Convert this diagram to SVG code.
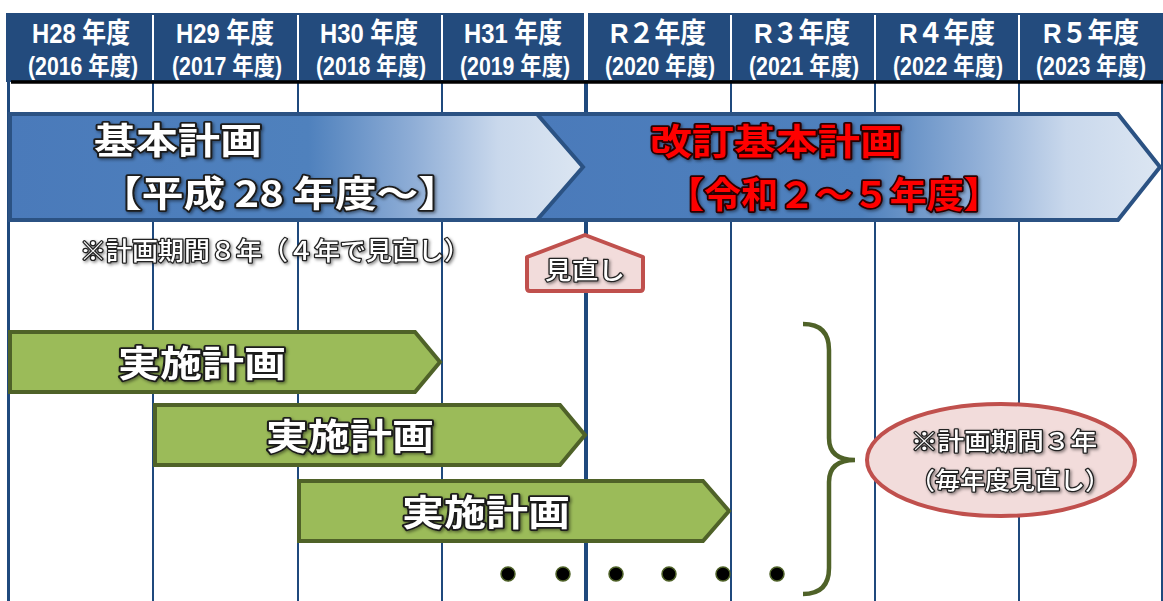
<svg xmlns="http://www.w3.org/2000/svg" width="1163" height="601" viewBox="0 0 1163 601">
<style>
.hd{font-family:"Liberation Sans","Noto Sans CJK JP",sans-serif;font-weight:700;fill:#fff;text-anchor:middle}
.h1{font-size:28px}
.h2{font-size:25px}
.grid{stroke:#1f497d;stroke-width:2}
.big{font-family:"Noto Sans CJK JP",sans-serif;font-weight:700;font-size:36px;paint-order:stroke;stroke-width:3.5;stroke-linejoin:round}
.wt{fill:#fff;stroke:#1a1a1a}
.rd{fill:#ff0000;stroke:#2a0000}
.sm{font-family:"Noto Sans CJK JP",sans-serif;font-weight:500;fill:#fff;stroke:#222;stroke-width:2.5;paint-order:stroke;stroke-linejoin:round;text-anchor:middle}
.green{fill:#9bbb59;stroke:#4f6228;stroke-width:4;stroke-linejoin:miter}
.pink{fill:#f2dcdb;stroke:#c0504d;stroke-width:4}
.dot{fill:#000;stroke:#4f6228;stroke-width:1.5}
</style>
<defs>
<linearGradient id="bg" x1="0" y1="0" x2="1" y2="0">
<stop offset="0" stop-color="#4a7aba"/>
<stop offset="0.52" stop-color="#4f81bd"/>
<stop offset="0.7" stop-color="#8eadd6"/>
<stop offset="0.85" stop-color="#c9d8ec"/>
<stop offset="1" stop-color="#dce6f2"/>
</linearGradient>
<filter id="sh" x="-5%" y="-10%" width="110%" height="130%">
<feDropShadow dx="1.5" dy="1.5" stdDeviation="1.5" flood-color="#000" flood-opacity="0.45"/>
</filter>
</defs>
<rect width="1163" height="601" fill="#fff"/>
<g id="grid">
<line class="grid" x1="8.5" y1="80" x2="8.5" y2="601" style="stroke-width:3"/>
<line class="grid" x1="153" y1="80" x2="153" y2="601"/>
<line class="grid" x1="298" y1="80" x2="298" y2="601"/>
<line class="grid" x1="442" y1="80" x2="442" y2="601"/>
<line class="grid" x1="586" y1="80" x2="586" y2="601" style="stroke-width:4"/>
<line class="grid" x1="731" y1="80" x2="731" y2="601"/>
<line class="grid" x1="875" y1="80" x2="875" y2="601"/>
<line class="grid" x1="1019" y1="80" x2="1019" y2="601"/>
<line class="grid" x1="1162" y1="80" x2="1162" y2="601"/>
</g>
<g id="header">
<rect x="6" y="13" width="1157" height="69" fill="#234b7d"/>
<g stroke="#fff" stroke-width="2">
<line x1="153" y1="15" x2="153" y2="80"/>
<line x1="298" y1="15" x2="298" y2="80"/>
<line x1="442" y1="15" x2="442" y2="80"/>
<line x1="731" y1="15" x2="731" y2="80"/>
<line x1="875" y1="15" x2="875" y2="80"/>
<line x1="1019" y1="15" x2="1019" y2="80"/>
<line x1="586" y1="13" x2="586" y2="80" stroke-width="4"/>
</g>
<line x1="11" y1="82" x2="1163" y2="82" stroke="#000" stroke-width="3.5"/>
<g class="hd h1">
<text x="81" y="43" textLength="98" lengthAdjust="spacingAndGlyphs">H28 年度</text>
<text x="225" y="43" textLength="98" lengthAdjust="spacingAndGlyphs">H29 年度</text>
<text x="369" y="43" textLength="98" lengthAdjust="spacingAndGlyphs">H30 年度</text>
<text x="513" y="43" textLength="98" lengthAdjust="spacingAndGlyphs">H31 年度</text>
<text x="658" y="43" textLength="96" lengthAdjust="spacingAndGlyphs">R２年度</text>
<text x="802" y="43" textLength="96" lengthAdjust="spacingAndGlyphs">R３年度</text>
<text x="947" y="43" textLength="96" lengthAdjust="spacingAndGlyphs">R４年度</text>
<text x="1091" y="43" textLength="96" lengthAdjust="spacingAndGlyphs">R５年度</text>
</g>
<g class="hd h2">
<text x="83" y="75" textLength="110" lengthAdjust="spacingAndGlyphs">(2016 年度)</text>
<text x="227" y="75" textLength="110" lengthAdjust="spacingAndGlyphs">(2017 年度)</text>
<text x="371" y="75" textLength="110" lengthAdjust="spacingAndGlyphs">(2018 年度)</text>
<text x="515" y="75" textLength="110" lengthAdjust="spacingAndGlyphs">(2019 年度)</text>
<text x="660" y="75" textLength="110" lengthAdjust="spacingAndGlyphs">(2020 年度)</text>
<text x="804" y="75" textLength="110" lengthAdjust="spacingAndGlyphs">(2021 年度)</text>
<text x="948" y="75" textLength="110" lengthAdjust="spacingAndGlyphs">(2022 年度)</text>
<text x="1091" y="75" textLength="110" lengthAdjust="spacingAndGlyphs">(2023 年度)</text>
</g>
</g>
<g id="plan1">
<path d="M10,114 L540,114 L584,167 L540,220 L10,220 Z" fill="url(#bg)" stroke="#2b5283" stroke-width="4"/>
<g filter="url(#sh)">
<text class="big wt" x="94" y="154" textLength="168" lengthAdjust="spacingAndGlyphs">基本計画</text>
<text class="big wt" x="100" y="207" textLength="360" lengthAdjust="spacingAndGlyphs">【平成 28 年度～】</text>
</g>
</g>
<g id="plan2">
<path d="M537,114 L1118,114 L1160,167 L1118,220 L537,220 L583,167 Z" fill="url(#bg)" stroke="#2b5283" stroke-width="4"/>
<g filter="url(#sh)">
<text class="big rd" x="650" y="155" textLength="252" lengthAdjust="spacingAndGlyphs">改訂基本計画</text>
<text class="big rd" x="667" y="208" textLength="334" lengthAdjust="spacingAndGlyphs">【令和２～５年度】</text>
</g>
</g>
<g id="note1">
<text class="sm" x="275" y="260" font-size="25" textLength="390" lengthAdjust="spacingAndGlyphs" filter="url(#sh)">※計画期間８年（４年で見直し）</text>
</g>
<g id="review">
<path d="M585,235 L643,257 L643,288 Q643,291 640,291 L530,291 Q527,291 527,288 L527,257 Z" class="pink" stroke-linejoin="round"/>
<text class="sm" x="585" y="279" font-size="24" textLength="80" lengthAdjust="spacingAndGlyphs" filter="url(#sh)">見直し</text>
</g>
<g id="impl1">
<path class="green" d="M10,332 L415,332 L440,362 L415,392 L10,392 Z"/>
<text class="big wt" x="202" y="377" text-anchor="middle" font-size="40" textLength="168" lengthAdjust="spacingAndGlyphs" filter="url(#sh)">実施計画</text>
</g>
<g id="impl2">
<path class="green" d="M155,405 L560,405 L585,435 L560,465 L155,465 Z"/>
<text class="big wt" x="350" y="450" text-anchor="middle" font-size="40" textLength="168" lengthAdjust="spacingAndGlyphs" filter="url(#sh)">実施計画</text>
</g>
<g id="impl3">
<path class="green" d="M299,481 L703,481 L729,511 L703,541 L299,541 Z"/>
<text class="big wt" x="486" y="526" text-anchor="middle" font-size="40" textLength="168" lengthAdjust="spacingAndGlyphs" filter="url(#sh)">実施計画</text>
</g>
<g id="dots">
<circle class="dot" cx="508" cy="574" r="7"/>
<circle class="dot" cx="563" cy="574" r="7"/>
<circle class="dot" cx="616" cy="574" r="7"/>
<circle class="dot" cx="669" cy="574" r="7"/>
<circle class="dot" cx="723" cy="574" r="7"/>
<circle class="dot" cx="777" cy="574" r="7"/>
</g>
<g id="connectors">
<path d="M803,324 Q829,324 829,350 L829,438 Q829,460 855,460 Q829,460 829,482 L829,568 Q829,594 803,594" fill="none" stroke="#4f6228" stroke-width="4.5"/>
</g>
<g id="note2">
<ellipse class="pink" cx="1001" cy="460" rx="134" ry="56"/>
<g filter="url(#sh)">
<text class="sm" x="1004" y="450" font-size="24" textLength="186" lengthAdjust="spacingAndGlyphs">※計画期間３年</text>
<text class="sm" x="1010" y="489" font-size="24" textLength="200" lengthAdjust="spacingAndGlyphs">（毎年度見直し）</text>
</g>
</g>
</svg>
